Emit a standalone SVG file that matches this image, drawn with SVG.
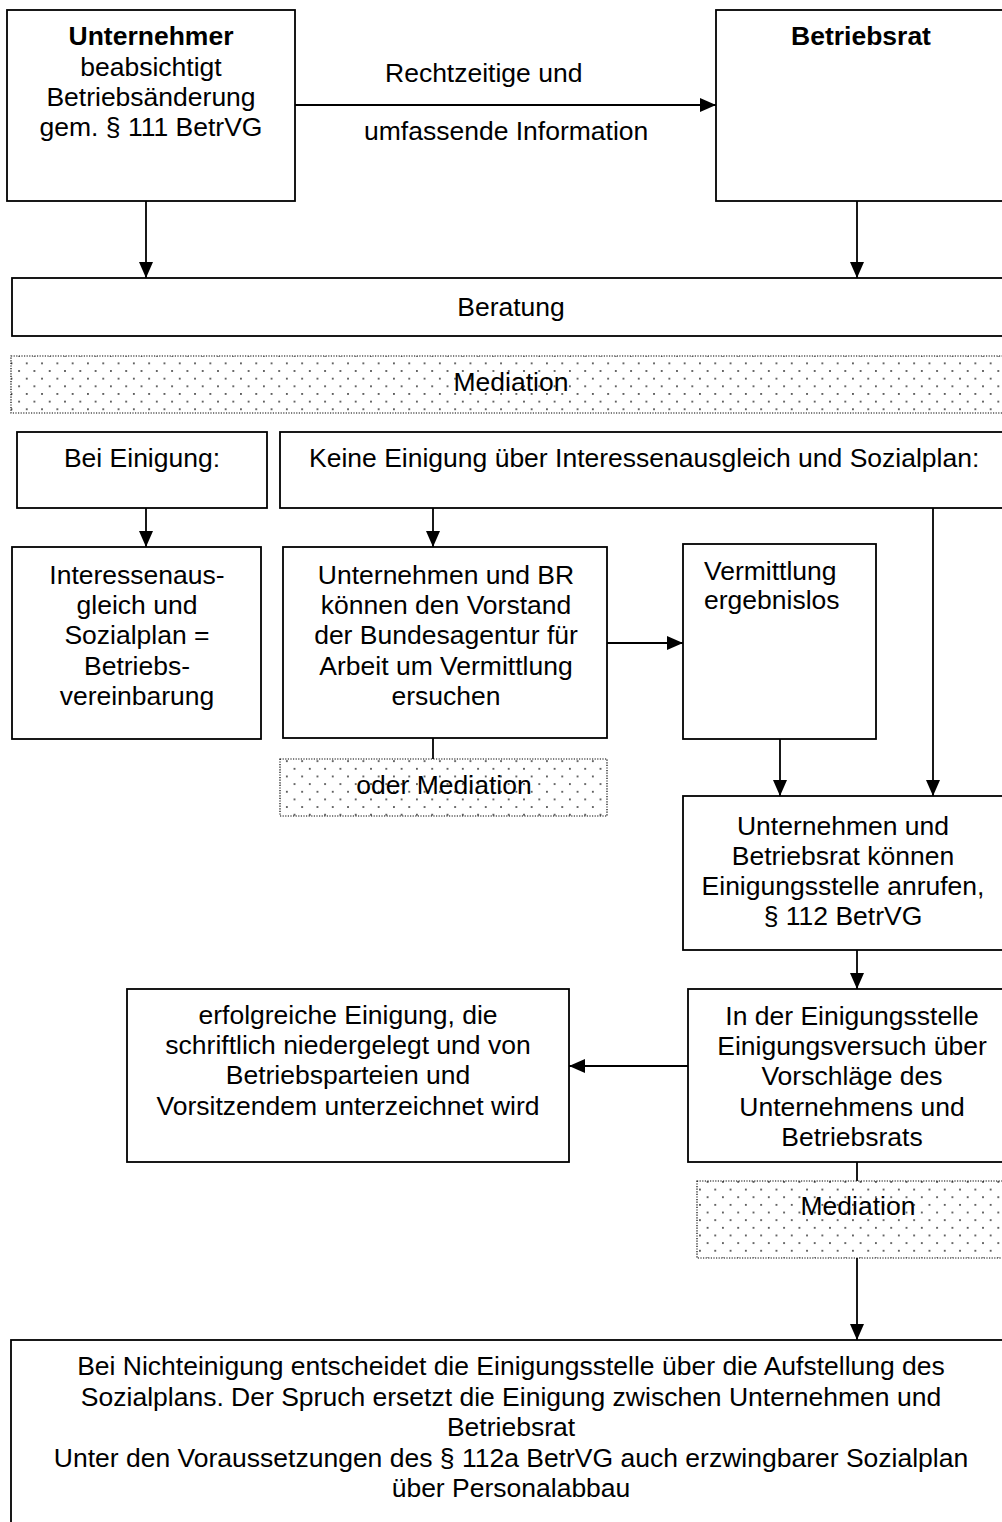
<svg xmlns="http://www.w3.org/2000/svg" width="1002" height="1522" viewBox="0 0 1002 1522">
  <defs>
    <!-- staggered dot raster for the mediation bands -->
    <pattern id="dots" x="0" y="0" width="15.3" height="15.3" patternUnits="userSpaceOnUse">
      <rect x="3" y="3" width="1.6" height="1.6" fill="#222"/>
      <rect x="10.65" y="10.65" width="1.6" height="1.6" fill="#222"/>
    </pattern>
    <marker id="arrow" viewBox="0 0 16 14" refX="16" refY="7" markerWidth="16" markerHeight="14" markerUnits="userSpaceOnUse" orient="auto">
      <path d="M0,0 L16,7 L0,14 Z" fill="#000"/>
    </marker>
    <style>
      .box { fill: #fff; stroke: #000; stroke-width: 1.8; }
      .med { fill: url(#dots); stroke: #000; stroke-width: 1.2; stroke-dasharray: 1.2 1.4; }
      .edge { fill: none; stroke: #000; stroke-width: 1.8; }
      .arr { marker-end: url(#arrow); }
      text { font-family: "Liberation Sans", Arial, sans-serif; font-size: 26.5px; fill: #000; }
      .c { text-anchor: middle; }
      .b { font-weight: bold; }
    </style>
  </defs>
  <rect width="1002" height="1522" fill="#fff"/>

  <g id="connectors">
    <line class="edge arr" x1="295" y1="105" x2="716" y2="105"/>
    <line class="edge arr" x1="146" y1="201" x2="146" y2="278"/>
    <line class="edge arr" x1="857" y1="201" x2="857" y2="278"/>
    <line class="edge arr" x1="146" y1="508" x2="146" y2="547"/>
    <line class="edge arr" x1="433" y1="508" x2="433" y2="547"/>
    <line class="edge arr" x1="933" y1="508" x2="933" y2="796"/>
    <line class="edge arr" x1="607" y1="643" x2="683" y2="643"/>
    <line class="edge arr" x1="780" y1="739" x2="780" y2="796"/>
    <line class="edge" x1="433" y1="738" x2="433" y2="759"/>
    <line class="edge arr" x1="857" y1="950" x2="857" y2="989"/>
    <line class="edge arr" x1="688" y1="1066" x2="569" y2="1066"/>
    <line class="edge" x1="857" y1="1162" x2="857" y2="1181"/>
    <line class="edge arr" x1="857" y1="1258" x2="857" y2="1340"/>
  </g>

  <g id="label-information">
    <text x="385" y="82">Rechtzeitige und</text>
    <text x="364" y="140">umfassende Information</text>
  </g>

  <g id="unternehmer">
    <rect class="box" x="7" y="10" width="288" height="191"/>
    <text class="c b" x="151" y="45">Unternehmer</text>
    <text class="c" x="151" y="76">beabsichtigt</text>
    <text class="c" x="151" y="106">Betriebsänderung</text>
    <text class="c" x="151" y="136">gem. § 111 BetrVG</text>
  </g>

  <g id="betriebsrat">
    <rect class="box" x="716" y="10" width="300" height="191"/>
    <text class="c b" x="861" y="45">Betriebsrat</text>
  </g>

  <g id="beratung">
    <rect class="box" x="12" y="278" width="1000" height="58"/>
    <text class="c" x="511" y="316">Beratung</text>
  </g>

  <g id="mediation-1">
    <rect class="med" x="11" y="356" width="1000" height="57"/>
    <text class="c" x="511" y="391">Mediation</text>
  </g>

  <g id="bei-einigung">
    <rect class="box" x="17" y="432" width="250" height="76"/>
    <text class="c" x="142" y="467">Bei Einigung:</text>
  </g>

  <g id="keine-einigung">
    <rect class="box" x="280" y="432" width="740" height="76"/>
    <text x="309" y="467">Keine Einigung über Interessenausgleich und Sozialplan:</text>
  </g>

  <g id="betriebsvereinbarung">
    <rect class="box" x="12" y="547" width="249" height="192"/>
    <text class="c" x="137" y="584">Interessenaus-</text>
    <text class="c" x="137" y="614">gleich und</text>
    <text class="c" x="137" y="644">Sozialplan =</text>
    <text class="c" x="137" y="675">Betriebs-</text>
    <text class="c" x="137" y="705">vereinbarung</text>
  </g>

  <g id="vermittlung-ersuchen">
    <rect class="box" x="283" y="547" width="324" height="191"/>
    <text class="c" x="446" y="584">Unternehmen und BR</text>
    <text class="c" x="446" y="614">können den Vorstand</text>
    <text class="c" x="446" y="644">der Bundesagentur für</text>
    <text class="c" x="446" y="675">Arbeit um Vermittlung</text>
    <text class="c" x="446" y="705">ersuchen</text>
  </g>

  <g id="mediation-2">
    <rect class="med" x="280" y="759" width="327" height="57"/>
    <text class="c" x="444" y="794">oder Mediation</text>
  </g>

  <g id="vermittlung-ergebnislos">
    <rect class="box" x="683" y="544" width="193" height="195"/>
    <text x="704" y="580">Vermittlung</text>
    <text x="704" y="609">ergebnislos</text>
  </g>

  <g id="einigungsstelle-anrufen">
    <rect class="box" x="683" y="796" width="330" height="154"/>
    <text class="c" x="843" y="835">Unternehmen und</text>
    <text class="c" x="843" y="865">Betriebsrat können</text>
    <text class="c" x="843" y="895">Einigungsstelle anrufen,</text>
    <text class="c" x="843" y="925">§ 112 BetrVG</text>
  </g>

  <g id="einigungsversuch">
    <rect class="box" x="688" y="989" width="330" height="173"/>
    <text class="c" x="852" y="1025">In der Einigungsstelle</text>
    <text class="c" x="852" y="1055">Einigungsversuch über</text>
    <text class="c" x="852" y="1085">Vorschläge des</text>
    <text class="c" x="852" y="1116">Unternehmens und</text>
    <text class="c" x="852" y="1146">Betriebsrats</text>
  </g>

  <g id="erfolgreiche-einigung">
    <rect class="box" x="127" y="989" width="442" height="173"/>
    <text class="c" x="348" y="1024">erfolgreiche Einigung, die</text>
    <text class="c" x="348" y="1054">schriftlich niedergelegt und von</text>
    <text class="c" x="348" y="1084">Betriebsparteien und</text>
    <text class="c" x="348" y="1115">Vorsitzendem unterzeichnet wird</text>
  </g>

  <g id="mediation-3">
    <rect class="med" x="697" y="1181" width="320" height="77"/>
    <text class="c" x="858" y="1215">Mediation</text>
  </g>

  <g id="spruch">
    <rect class="box" x="11" y="1340" width="1000" height="200"/>
    <text class="c" x="511" y="1375">Bei Nichteinigung entscheidet die Einigungsstelle über die Aufstellung des</text>
    <text class="c" x="511" y="1406">Sozialplans. Der Spruch ersetzt die Einigung zwischen Unternehmen und</text>
    <text class="c" x="511" y="1436">Betriebsrat</text>
    <text class="c" x="511" y="1467">Unter den Voraussetzungen des § 112a BetrVG auch erzwingbarer Sozialplan</text>
    <text class="c" x="511" y="1497">über Personalabbau</text>
  </g>
</svg>
